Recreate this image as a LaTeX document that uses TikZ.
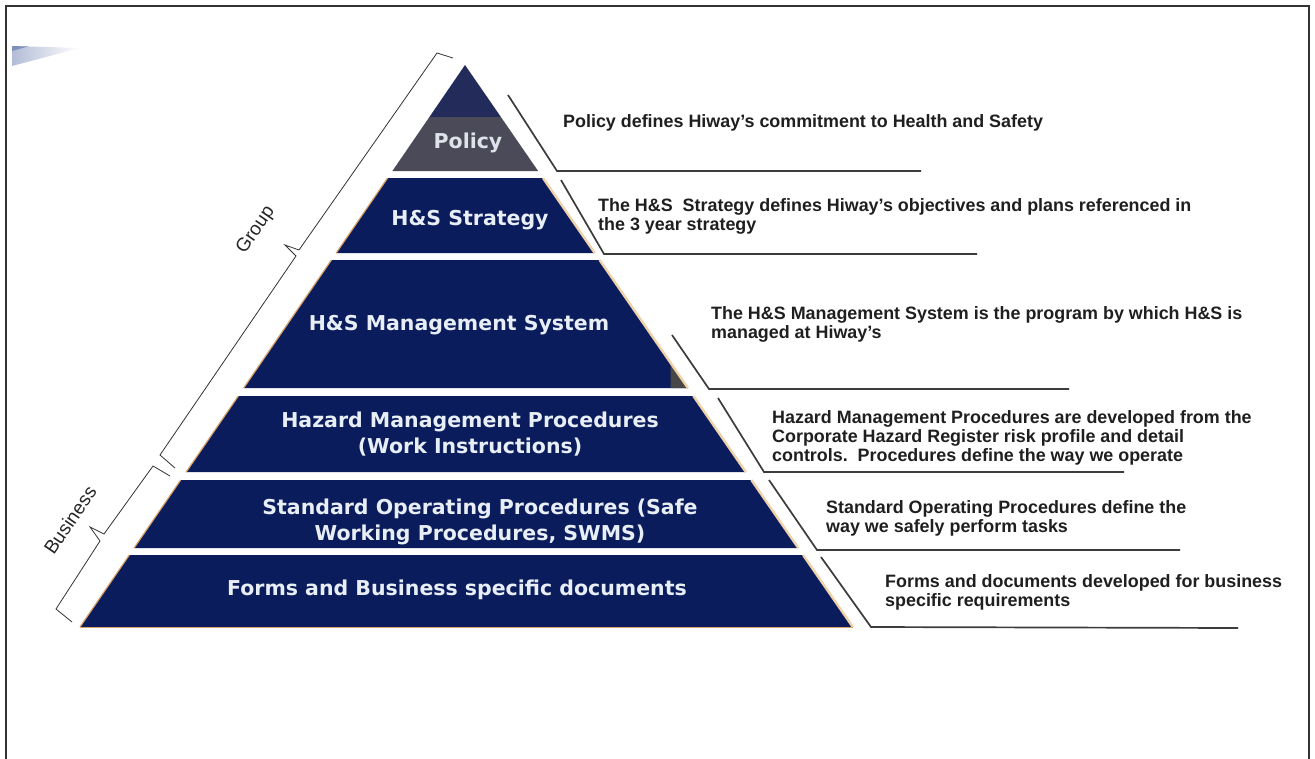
\documentclass[tikz,border=0pt]{standalone}
\usepackage{fontspec}
\setmainfont{Liberation Sans}
\newfontfamily\tierfont{DejaVu Sans}
\definecolor{navy}{HTML}{0B1C5C}
\definecolor{navytop}{HTML}{232B5A}
\definecolor{polgray}{HTML}{4A4A58}
\definecolor{glowR}{HTML}{F1D2A8}
\definecolor{glowL}{HTML}{D9A26A}
\definecolor{linegray}{HTML}{3C3C3C}
\definecolor{labelwhite}{HTML}{E8EEF6}
\definecolor{wedgeblue}{HTML}{7F8FBB}
\begin{document}
\begin{tikzpicture}[x=1pt,y=-1pt,
  tierlabel/.style={text=labelwhite, font=\tierfont\bfseries\fontsize{20.5}{26}\selectfont, align=center, inner sep=0},
  desc/.style={anchor=west, font=\bfseries\fontsize{17.9}{19}\selectfont, align=left, text=black!88, inner sep=0},
  conn/.style={draw=linegray, line width=1.7pt},
  brace/.style={draw=black!80, line width=0.8pt},
  side/.style={font=\fontsize{19}{21}\selectfont, inner sep=0, text=black!85},
  rglow/.style={draw=glowR, line width=2.4pt},
  lglow/.style={draw=glowL, line width=1.2pt},
  ]
\useasboundingbox (0,0) rectangle (1315,758);
\fill[white] (0,0) rectangle (1315,758);
% frame
\draw[line width=2pt, black!80] (6,760) -- (6,6) -- (1309,6) -- (1309,760);
% top-left wedge
\shade[left color=wedgeblue!60, right color=white] (12,46) -- (80,48) -- (12,66) -- cycle;
\fill[wedgeblue] (12,46) -- (28,46.5) -- (12,51) -- cycle;

% ---- pyramid tiers ----
% Policy
\fill[navytop] (465,65) -- (500.9,117) -- (429.4,117) -- cycle;
\fill[polgray] (429.4,117) -- (500.9,117) -- (538.1,171) -- (392.4,171) -- cycle;
% Strategy
\fill[navy] (387.6,178) -- (543,178) -- (594.7,253) -- (336.2,253) -- cycle;
\draw[rglow] (543,178) -- (594.7,253);
\draw[lglow] (387.6,178) -- (336.2,253);
% Management
\fill[navy] (331.4,260) -- (599.6,260) -- (687.9,388) -- (243.7,388) -- cycle;
\fill[black!72] (670.5,363) -- (687.9,388) -- (670.5,388) -- cycle;
\draw[rglow] (599.6,260) -- (687.9,388);
\draw[lglow] (331.4,260) -- (243.7,388);
% Hazard
\fill[navy] (238.3,396) -- (693.4,396) -- (745.8,472) -- (186.2,472) -- cycle;
\draw[rglow] (693.4,396) -- (745.8,472);
\draw[lglow] (238.3,396) -- (186.2,472);
% SOP
\fill[navy] (180.7,480) -- (751.4,480) -- (798.3,548) -- (134.1,548) -- cycle;
\draw[rglow] (751.4,480) -- (798.3,548);
\draw[lglow] (180.7,480) -- (134.1,548);
% Forms
\fill[navy] (129.3,555) -- (803.1,555) -- (852.8,627) -- (80,627) -- cycle;
\draw[rglow] (803.1,555) -- (852.8,627);
\draw[lglow] (129.3,555) -- (80,627);
\draw[draw=glowL, line width=1.6pt] (80,627.5) -- (852.8,627.5);

% ---- tier labels ----
\node[tierlabel, text=labelwhite!90!gray] (policy) at (468,143) {Policy};
\node[tierlabel] (strategy) at (470,220) {H\&S Strategy};
\node[tierlabel] (mgmt) at (459,325) {H\&S Management System};
\node[tierlabel] (hazard) at (470,434) {Hazard Management Procedures\\(Work Instructions)};
\node[tierlabel] (sop) at (480,521.5) {Standard Operating Procedures (Safe\\Working Procedures, SWMS)};
\node[tierlabel] (forms) at (457,590) {Forms and Business specific documents};

% ---- connectors ----
\coordinate (c1a) at (508,95);  \coordinate (c1b) at (557,171); \coordinate (c1c) at (921,171);
\coordinate (c2a) at (561,180); \coordinate (c2b) at (604,254); \coordinate (c2c) at (977,254);
\coordinate (c3a) at (672,335); \coordinate (c3b) at (709,389); \coordinate (c3c) at (1069,389);
\coordinate (c4a) at (718,398); \coordinate (c4b) at (764,472); \coordinate (c4c) at (1124,472);
\coordinate (c5a) at (769,480); \coordinate (c5b) at (817,550); \coordinate (c5c) at (1180,550);
\coordinate (c6a) at (821,557); \coordinate (c6b) at (871,627); \coordinate (c6c) at (1238,628);
\draw[conn] (c1a) -- (c1b) -- (c1c);
\draw[conn] (c2a) -- (c2b) -- (c2c);
\draw[conn] (c3a) -- (c3b) -- (c3c);
\draw[conn] (c4a) -- (c4b) -- (c4c);
\draw[conn] (c5a) -- (c5b) -- (c5c);
\draw[conn] (c6a) -- (c6b) -- (c6c);

% ---- descriptions ----
\node[desc] (d1) at (563,123) {Policy defines Hiway’s commitment to Health and Safety};
\node[desc] (d2) at (598,216.5) {The H\&S\ \ Strategy defines Hiway’s objectives and plans referenced in\\the 3 year strategy};
\node[desc] (d3) at (711,324.5) {The H\&S Management System is the program by which H\&S is\\managed at Hiway’s};
\node[desc] (d4) at (772,438) {Hazard Management Procedures are developed from the\\Corporate Hazard Register risk profile and detail\\controls.\ \ Procedures define the way we operate};
\node[desc] (d5) at (826,518.5) {Standard Operating Procedures define the\\way we safely perform tasks};
\node[desc] (d6) at (885,592.5) {Forms and documents developed for business\\specific requirements};

% ---- brackets ----
\draw[brace] (453,58) -- (437,53) -- (299,250) -- (285,245) -- (296,256) -- (160,455) -- (175,468);
\draw[brace] (170,476) -- (153,466) -- (104,534) -- (90,527) -- (100,541) -- (56,609) -- (72,622);
\node[side, rotate=55.6] (group) at (256,230) {Group};
\node[side, rotate=55.6] (business) at (70,520) {Business};
\end{tikzpicture}
\end{document}
